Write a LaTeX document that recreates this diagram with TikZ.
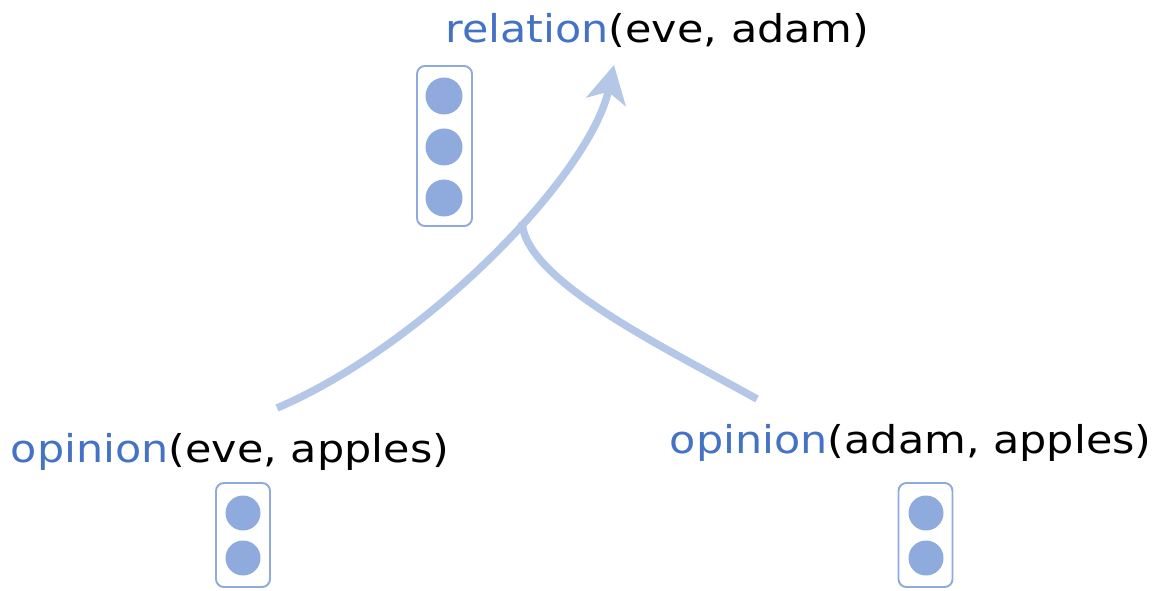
\documentclass[tikz,border=0pt]{standalone}
\usepackage{fontspec}
\newfontfamily\labelfont[FakeStretch=1.12]{DejaVu Sans}
\usepackage{tikz}
\usetikzlibrary{arrows.meta}
\definecolor{predblue}{HTML}{4472C4}
\definecolor{vecblue}{HTML}{8FAADC}
\definecolor{flowblue}{HTML}{B4C7E7}

\begin{document}
\begin{tikzpicture}[
    lbl/.style={anchor=base west, inner sep=0pt, font=\labelfont\fontsize{21.8pt}{26pt}\selectfont},
    vecbox/.style={draw=vecblue, line width=1.1pt, rounded corners=4.5pt, minimum width=1.1cm, inner sep=0pt},
    dot/.style={circle, fill=vecblue, inner sep=0pt, minimum size=#1},
    link/.style={draw=flowblue, line width=0.15cm},
    arr/.style={link, -{Stealth[length=0.75cm, width=0.8cm, inset=0.2cm]}}
]
\useasboundingbox (0,0) rectangle (23.1,11.8);

% predicates
\node[lbl] (rel) at (8.90,10.94) {\textcolor{predblue}{relation}(eve, adam)};
\node[lbl] (opL) at (0.21,2.56) {\textcolor{predblue}{opinion}(eve, apples)};
\node[lbl] (opR) at (13.39,2.74) {\textcolor{predblue}{opinion}(adam, apples)};

% vectors
\node[vecbox, minimum height=3.2cm] (vecRel) at (8.89,8.88) {};
\node[dot=0.74cm] (rel1) at (8.88,9.88) {};
\node[dot=0.74cm] (rel2) at (8.88,8.86) {};
\node[dot=0.74cm] (rel3) at (8.88,7.84) {};

\node[vecbox, minimum width=1.08cm, minimum height=2.08cm] (vecL) at (4.86,1.1) {};
\node[dot=0.7cm] (l1) at (4.86,1.54) {};
\node[dot=0.7cm] (l2) at (4.86,0.64) {};

\node[vecbox, minimum width=1.08cm, minimum height=2.08cm] (vecR) at (18.51,1.1) {};
\node[dot=0.7cm] (r1) at (18.52,1.54) {};
\node[dot=0.7cm] (r2) at (18.52,0.64) {};

% composition
\coordinate (srcL) at (5.54,3.64);
\coordinate (srcR) at (15.14,3.82);
\coordinate (fork) at (10.44,7.36);
\coordinate (tipRel) at (12.28,10.5);

\draw[arr] (srcL) .. controls (8.5,4.9) and (11.8,8.3) .. (tipRel);
\draw[link] (srcR) .. controls (13.2,4.9) and (10.5,6.2) .. (fork);
\end{tikzpicture}
\end{document}
